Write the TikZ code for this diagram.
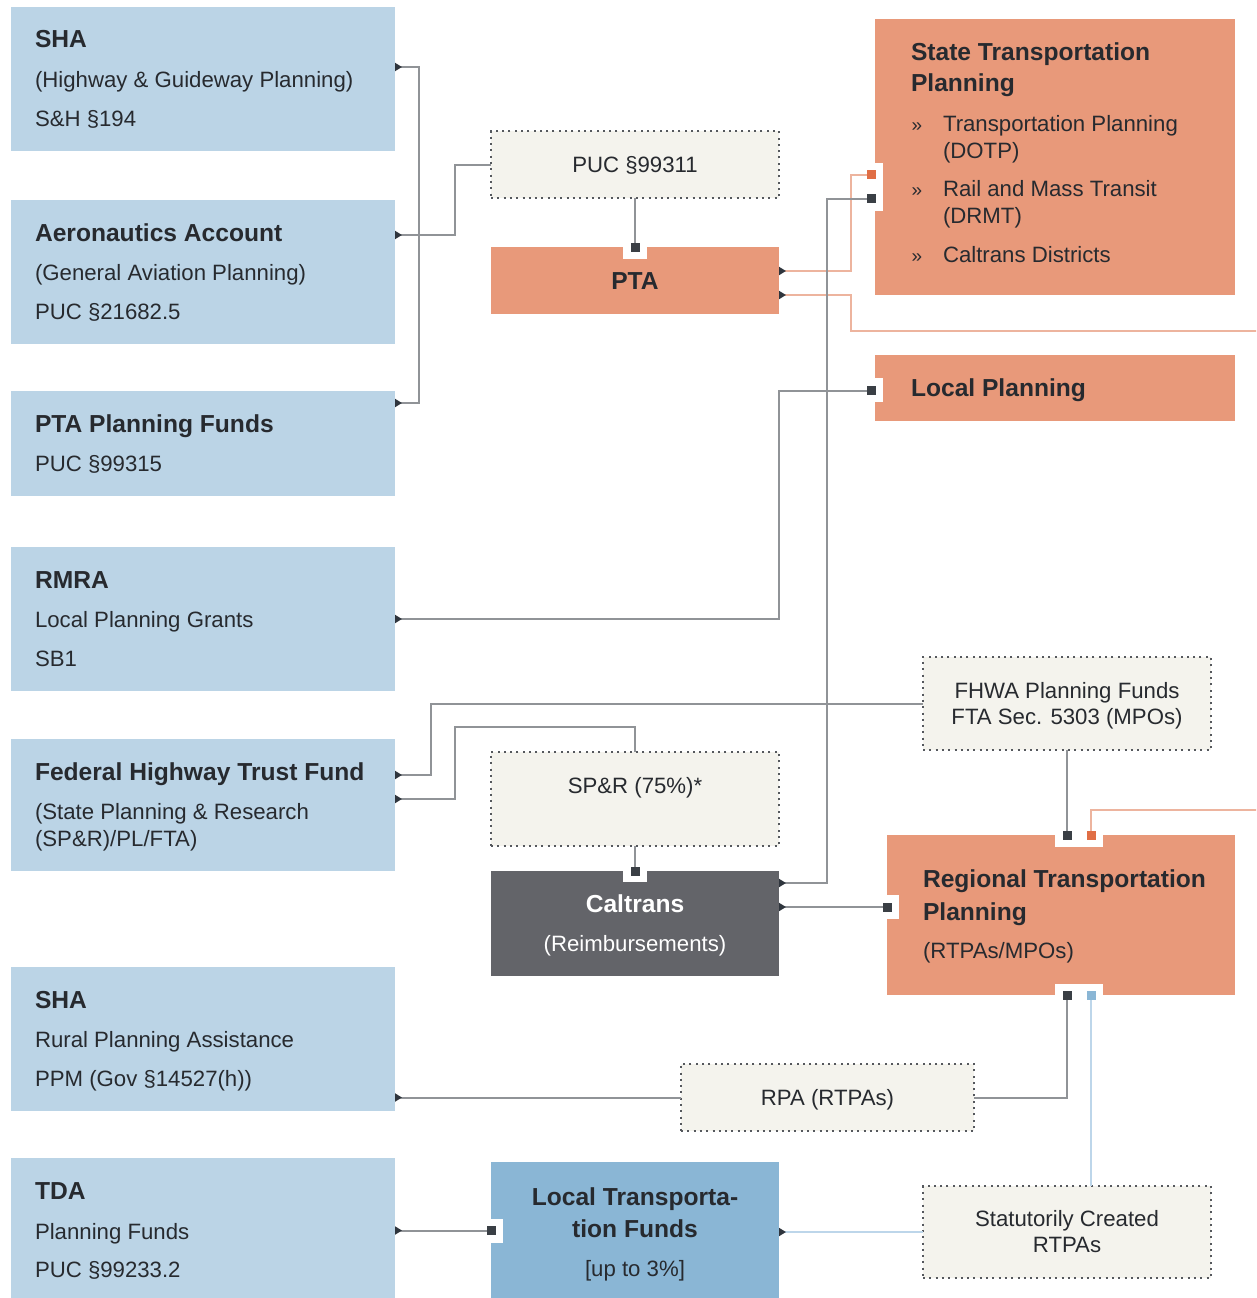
\documentclass[tikz,border=0pt]{standalone}
\usepackage{fontspec}
\setmainfont{Liberation Sans}
\usetikzlibrary{arrows.meta}
\definecolor{boxBlue}{HTML}{BBD4E6}
\definecolor{boxOr}{HTML}{E8997A}
\definecolor{dotFill}{HTML}{F4F3ED}
\definecolor{dotC}{HTML}{55585D}
\definecolor{caltC}{HTML}{636469}
\definecolor{ltfC}{HTML}{8AB6D5}
\definecolor{gLineC}{HTML}{909397}
\definecolor{oLineC}{HTML}{EDB49E}
\definecolor{bLineC}{HTML}{BDD6EA}
\definecolor{tipC}{HTML}{2F353D}
\definecolor{sqDark}{HTML}{3A3F45}
\definecolor{sqOr}{HTML}{E06E45}
\definecolor{sqBlue}{HTML}{8AB6D5}
\definecolor{textC}{HTML}{272A2F}
\newcommand\regfont{\fontsize{22.2}{26}\selectfont}
\newcommand\ttlfont{\fontsize{24.6}{28}\selectfont\bfseries}
\newcommand\bulfont{\fontsize{19}{22}\selectfont}
\tikzset{ft/.tip={Triangle[reversed,length=7pt,width=8pt,color=tipC]}}
\begin{document}
\begin{tikzpicture}[x=1pt,y=-1pt,
  basebox/.style={anchor=north west, inner sep=0pt, outer sep=0pt},
  srcbox/.style={basebox, fill=boxBlue, minimum width=384pt},
  orbox/.style={basebox, fill=boxOr},
  dotbox/.style={basebox, fill=dotFill, draw=dotC, line width=2pt, dash pattern=on 2pt off 4.3pt},
  darkbox/.style={basebox, fill=caltC},
  ltfbox/.style={basebox, fill=ltfC},
  sq/.style={inner sep=0pt, outer sep=0pt, minimum size=9pt, fill=#1},
  sq/.default=sqDark,
  notch/.style={fill=white},
  gline/.style={draw=gLineC, line width=2pt},
  oline/.style={draw=oLineC, line width=2pt},
  bline/.style={draw=bLineC, line width=2pt},
  txt/.style={inner sep=0pt, outer sep=0pt, text=textC, font=\regfont, anchor=base west},
  ttl/.style={txt, font=\ttlfont},
  bul/.style={txt, font=\bulfont},
  ctxt/.style={txt, anchor=base},
  cttl/.style={ttl, anchor=base},
]
\useasboundingbox (0,0) rectangle (1256,1298);
\fill[white] (0,0) rectangle (1256,1298);
\clip (0,0) rectangle (1256,1298);

% ---------- left source boxes ----------
\node[srcbox, minimum height=144pt] (sha1) at (11,7) {};
\node[srcbox, minimum height=144pt] (aero) at (11,200) {};
\node[srcbox, minimum height=105pt] (ptapf) at (11,391) {};
\node[srcbox, minimum height=144pt] (rmra) at (11,547) {};
\node[srcbox, minimum height=132pt] (fhtf) at (11,739) {};
\node[srcbox, minimum height=144pt] (sha2) at (11,967) {};
\node[srcbox, minimum height=144pt] (tda) at (11,1158) {};

% ---------- middle boxes ----------
\node[dotbox, minimum width=288pt, minimum height=67pt] (puc) at (491,131) {};
\node[orbox, minimum width=288pt, minimum height=67pt] (pta) at (491,247) {};
\node[dotbox, minimum width=288pt, minimum height=94pt] (spr) at (491,752) {};
\node[darkbox, minimum width=288pt, minimum height=105pt] (calt) at (491,871) {};
\node[dotbox, minimum width=293pt, minimum height=67pt] (rpa) at (681,1064) {};
\node[ltfbox, minimum width=288pt, minimum height=140pt] (ltf) at (491,1162) {};

% ---------- right boxes ----------
\node[orbox, minimum width=360pt, minimum height=276pt] (stp) at (875,19) {};
\node[orbox, minimum width=360pt, minimum height=66pt] (lp) at (875,355) {};
\node[dotbox, minimum width=288pt, minimum height=93pt] (fhwa) at (923,657) {};
\node[orbox, minimum width=348pt, minimum height=160pt] (rtp) at (887,835) {};
\node[dotbox, minimum width=288pt, minimum height=92pt] (stat) at (923,1186) {};

% ---------- notches ----------
\fill[notch] (623,247) rectangle (647,259);
\fill[notch] (875,163) rectangle (883,211);
\fill[notch] (875,378) rectangle (883,402);
\fill[notch] (623,871) rectangle (647,882);
\fill[notch] (887,895) rectangle (899,919);
\fill[notch] (1055,835) rectangle (1103,847);
\fill[notch] (1055,984) rectangle (1103,995);
\fill[notch] (491,1219) rectangle (503,1243);

% ---------- port squares ----------
\node[sq] (ptaIn) at (635,247.5) {};
\node[sq=sqOr] (stpA) at (871.5,174.5) {};
\node[sq] (stpB) at (871.5,198.5) {};
\node[sq] (lpIn) at (871.5,390.5) {};
\node[sq] (caltIn) at (635,871) {};
\node[sq] (rtpL) at (887,907) {};
\node[sq] (rtpT1) at (1067,835) {};
\node[sq=sqOr] (rtpT2) at (1091,835) {};
\node[sq] (rtpB1) at (1067,995.5) {};
\node[sq=sqBlue] (rtpB2) at (1091,995.5) {};
\node[sq] (ltfIn) at (491.5,1230.5) {};

% ---------- connectors ----------
\draw[gline, ft-ft] ([yshift=-60pt]sha1.north east) -- ++(24,0) |- ([yshift=-12pt]ptapf.north east);
\draw[gline, ft-] ([yshift=-35pt]aero.north east) -- ++(60,0) |- (puc.west);
\draw[gline] (puc.south) -- (ptaIn);
\draw[oline, ft-] ([yshift=-24pt]pta.north east) -- ++(72,0) |- (stpA);
\draw[oline, ft-] ([yshift=-48pt]pta.north east) -- ++(72,0) -- ++(0,36) -- ++(449,0) -- ++(0,479) -| (rtpT2);
\draw[gline, ft-] ([yshift=-12pt]calt.north east) -- ++(48,0) |- (stpB);
\draw[gline, ft-] ([yshift=-36pt]calt.north east) -- (rtpL);
\draw[gline, ft-] ([yshift=-72pt]rmra.north east) -- ++(384,0) |- (lpIn);
\draw[gline, ft-] ([yshift=-36pt]fhtf.north east) -- ++(36,0) |- (fhwa.west);
\draw[gline, ft-] ([yshift=-60pt]fhtf.north east) -- ++(60,0) -- ++(0,-72) -| (spr.north);
\draw[gline] (spr.south) -- (caltIn);
\draw[gline] (fhwa.south) -- (rtpT1);
\draw[gline] (rtpB1) |- (rpa.east);
\draw[gline, -ft] (rpa.west) -- (rpa.west -| sha2.east);
\draw[bline] (rtpB2) -- (rtpB2 |- stat.north);
\draw[bline, -ft] (stat.west) -- (stat.west -| ltf.east);
\draw[gline, ft-] (ltfIn -| tda.east) -- (ltfIn);

% ---------- texts: left ----------
\node[ttl] (t1a) at (35,48) {SHA};
\node[txt] (t1b) at (35,87) {(Highway \& Guideway Planning)};
\node[txt] (t1c) at (35,126) {S\&H §194};
\node[ttl] (t2a) at (35,241) {Aeronautics Account};
\node[txt] (t2b) at (35,280) {(General Aviation Planning)};
\node[txt] (t2c) at (35,319) {PUC §21682.5};
\node[ttl] (t3a) at (35,432) {PTA Planning Funds};
\node[txt] (t3b) at (35,471) {PUC §99315};
\node[ttl] (t4a) at (35,588) {RMRA};
\node[txt] (t4b) at (35,627) {Local Planning Grants};
\node[txt] (t4c) at (35,666) {SB1};
\node[ttl] (t5a) at (35,780) {Federal Highway Trust Fund};
\node[txt] (t5b) at (35,819) {(State Planning \& Research};
\node[txt] (t5c) at (35,846) {(SP\&R)/PL/FTA)};
\node[ttl] (t6a) at (35,1008) {SHA};
\node[txt] (t6b) at (35,1047) {Rural Planning Assistance};
\node[txt] (t6c) at (35,1086) {PPM (Gov §14527(h))};
\node[ttl] (t7a) at (35,1199) {TDA};
\node[txt] (t7b) at (35,1239) {Planning Funds};
\node[txt] (t7c) at (35,1277) {PUC §99233.2};

% ---------- texts: middle ----------
\node[ctxt] (tpuc) at (635,172) {PUC §99311};
\node[cttl] (tpta) at (635,289) {PTA};
\node[ctxt] (tspr) at (635,793) {SP\&R (75\%)*};
\node[cttl, text=white] (tcalA) at (635,912) {Caltrans};
\node[ctxt, text=white] (tcalB) at (635,951) {(Reimbursements)};
\node[ctxt] (trpa) at (827.5,1105) {RPA (RTPAs)};
\node[cttl] (tltfA) at (635,1205) {Local Transporta-};
\node[cttl] (tltfB) at (635,1237) {tion Funds};
\node[ctxt] (tltfC) at (635,1276) {[up to 3\%]};

% ---------- texts: right ----------
\node[ttl] (tstA) at (911,60) {State Transportation};
\node[ttl] (tstB) at (911,92) {Planning};
\node[bul] (tb1) at (911.5,131) {»};
\node[txt] (ts1) at (943,131) {Transportation Planning};
\node[txt] (ts1b) at (943,158) {(DOTP)};
\node[bul] (tb2) at (911.5,196) {»};
\node[txt] (ts2) at (943,196) {Rail and Mass Transit};
\node[txt] (ts2b) at (943,223) {(DRMT)};
\node[bul] (tb3) at (911.5,262) {»};
\node[txt] (ts3) at (943,262) {Caltrans Districts};
\node[ttl] (tlp) at (911,396.5) {Local Planning};
\node[ctxt] (tfhA) at (1067,698) {FHWA Planning Funds};
\node[ctxt] (tfhB) at (1067,724) {FTA Sec. 5303 (MPOs)};
\node[ttl] (trtA) at (923,887) {Regional Transportation};
\node[ttl] (trtB) at (923,920) {Planning};
\node[txt] (trtC) at (923,958) {(RTPAs/MPOs)};
\node[ctxt] (tstatA) at (1067,1226) {Statutorily Created};
\node[ctxt] (tstatB) at (1067,1252) {RTPAs};
\end{tikzpicture}
\end{document}
